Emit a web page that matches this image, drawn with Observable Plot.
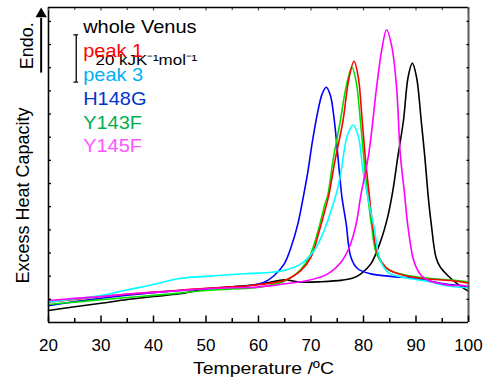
<!DOCTYPE html>
<html><head><meta charset="utf-8">
<script src="https://cdn.jsdelivr.net/npm/d3@7"></script>
<script src="https://cdn.jsdelivr.net/npm/@observablehq/plot@0.6"></script>
<style>
html,body{margin:0;padding:0;background:#fff;}
#chart svg{display:block;}
</style>
</head><body><div id="chart"></div>
<script>
// ---- data ----
const seriesNames = ["whole Venus", "peak 1", "peak 3", "H148G", "Y143F", "Y145F"];
const lineColors  = ["#000000", "#ff0000", "#00ffff", "#0000ff", "#00e000", "#ff00ff"];
const labelColors = ["#000000", "#ff0000", "#00b0f0", "#0033cc", "#00b050", "#ff55ff"];
const drawOrder   = ["whole Venus", "H148G", "Y143F", "peak 1", "peak 3", "Y145F"];

const wholeVenusT = [20, 25, 30, 35, 40, 45, 50, 55, 60, 62, 65, 68, 72, 76, 78, 79.5, 81.4, 83.3, 84.6, 85.6, 86.5, 87.6, 88.5, 89.3, 90.1, 91.0, 91.7, 92.4, 92.9, 93.8, 94.6, 95.4, 96.7, 98, 100];
const wholeVenusV = [5.2, 6.8, 8.3, 9.9, 11.2, 12.4, 14.5, 15.4, 16.5, 17.3, 18.4, 17.4, 17.6, 18.3, 19.2, 21, 25.3, 35.4, 45.5, 57, 71, 87, 106, 112, 106, 87, 71, 52.7, 42.6, 28.2, 24, 21.8, 18.9, 16.5, 13.5];

const peak1T = [20, 25, 30, 35, 40, 45, 50, 55, 58.5, 62, 64.9, 68.1, 70, 71.6, 72.9, 73.4, 74.5, 76.1, 77.2, 78.2, 79.0, 79.75, 80.4, 81.1, 81.7, 82.7, 84.6, 87.8, 91.6, 96.7, 100];
const peak1V = [8.8, 10.0, 11.2, 12.2, 13.1, 13.9, 14.8, 15.4, 16, 16.9, 18.1, 22.5, 28.2, 39.7, 50.5, 55, 69, 87.2, 105, 112.8, 106, 87.2, 70, 55, 42.6, 29.6, 23.2, 20.3, 18.9, 18.1, 17];

const peak3T = [20, 25, 30, 35, 40, 45, 50, 55, 58.5, 62, 64.9, 68.1, 70.6, 72.5, 74.2, 75.1, 75.75, 76.9, 78.0, 79.0, 79.9, 80.5, 81.1, 82.1, 83.0, 84.6, 87.8, 92.9, 95.4, 100];
const peak3V = [8.8, 10.2, 11.6, 14.1, 16.4, 19.0, 19.9, 20.7, 21.2, 21.6, 22.5, 25.3, 31.1, 39.7, 51, 58, 65.6, 80.5, 85.3, 80.5, 65.6, 58, 51, 40, 28.2, 21.8, 19.4, 17.5, 16, 15];

const h148gT = [20, 25, 30, 35, 40, 45, 50, 55, 58.5, 61.1, 63, 64.9, 66.2, 67.5, 68.6, 69.4, 70.2, 71.2, 72.1, 72.9, 73.7, 74.4, 74.9, 75.4, 75.9, 76.7, 77.6, 78.9, 81.4, 85.2, 90.3, 95.4, 100];
const h148gV = [7.3, 9.0, 10.5, 11.8, 12.9, 13.8, 14.6, 15.3, 16, 17.4, 20.3, 25.3, 32.5, 42.6, 55, 65, 77.2, 90, 98.5, 101.6, 98, 88, 77.2, 65, 54, 42.6, 28.2, 23.2, 21, 19.9, 18.9, 16.7, 15.5];

const y143fT = [20, 25, 30, 35, 40, 45, 50, 55, 58.5, 62, 64.9, 68, 69.8, 71.4, 72.7, 73.2, 74.2, 75.6, 76.8, 77.8, 78.6, 79.4, 80.1, 80.8, 81.5, 82.5, 84.5, 87.8, 91.6, 96.7, 100];
const y143fV = [7.8, 8.8, 9.8, 10.8, 11.7, 12.7, 13.8, 14.5, 14.8, 16, 17.8, 22.8, 28.8, 40, 51.5, 55, 70, 87.2, 103, 110.2, 104, 87.2, 70, 55, 42.6, 29.6, 23.2, 20.6, 19.3, 18.3, 17.5];

const y145fT = [20, 25, 30, 35, 40, 45, 50, 55, 58.5, 62, 65, 69.4, 73.2, 75.7, 77.3, 78.6, 79.5, 81.0, 82.5, 83.5, 84.4, 85.4, 86.3, 87.0, 87.8, 88.4, 89.4, 90.2, 91, 92.5, 94.8, 96.7, 99, 100];
const y145fV = [9.5, 10.4, 11.2, 12.3, 13.0, 13.8, 14.6, 15.0, 15.1, 15.8, 16.7, 18.1, 21, 26, 32.5, 42.6, 55, 72.8, 101.6, 118, 126.4, 119, 101.6, 72.8, 56, 42.6, 28.2, 23, 20.3, 18, 16.7, 16, 16, 15.5];

const seriesT = {"whole Venus": wholeVenusT, "peak 1": peak1T, "peak 3": peak3T, "H148G": h148gT, "Y143F": y143fT, "Y145F": y145fT};
const seriesV = {"whole Venus": wholeVenusV, "peak 1": peak1V, "peak 3": peak3V, "H148G": h148gV, "Y143F": y143fV, "Y145F": y145fV};

const xDomain = [20, 100];
const yDomain = [0, 136];
const xMajorTicks = [20, 30, 40, 50, 60, 70, 80, 90, 100];
const xMinorTicks = [25, 35, 45, 55, 65, 75, 85, 95];
const yTicks = [10, 20, 30, 40, 50, 60, 70, 80, 90, 100, 110, 120, 130];

// legend & annotations (data units)
const legendX = 26.6;
const legendTopV = 124.9;
const legendStepV = 10.3;
const scaleBar = {x: 25.28, v0: 103.8, v1: 124.2, label: "20 kJK\u207B\u00B9mol\u207B\u00B9", labelX: 28.95, labelV: 111.3};
const endoArrow = {x: 18.6, v0: 107.9, v1: 131.5, head: 133.2};
const endoText = {x: 17.0, v: 119.5, text: "Endo."};
const yTitle = {x: 16.3, v: 54.8, text: "Excess Heat Capacity"};
const xTitle = "Temperature /\u00BAC";

// ---- build rows ----
const rows = drawOrder.flatMap(name => seriesT[name].map((t, i) => ({series: name, T: t, V: seriesV[name][i]})));
const legendRows = seriesNames.map((name, i) => ({name, color: labelColors[i], v: legendTopV - i * legendStepV}));

const font = "Liberation Sans, Arial, Helvetica, sans-serif";

const chart = Plot.plot({
  width: 489,
  height: 385,
  marginLeft: 48,
  marginRight: 21,
  marginTop: 7,
  marginBottom: 63,
  style: {fontFamily: font, fontSize: "17px", background: "#fff", color: "#000", overflow: "visible"},
  x: {domain: xDomain, axis: null},
  y: {domain: yDomain, axis: null},
  color: {domain: seriesNames, range: lineColors},
  marks: [
    // curves
    Plot.line(rows, {x: "T", y: "V", z: "series", stroke: "series", strokeWidth: 1.6, curve: "catmull-rom"}),
    // frame
    Plot.ruleY([yDomain[0]], {stroke: "#000", strokeWidth: 1.6}),
    Plot.ruleX([xDomain[0]], {stroke: "#000", strokeWidth: 1.6}),
    Plot.ruleY([yDomain[1]], {stroke: "#000", strokeWidth: 1.3}),
    Plot.ruleX([xDomain[1]], {stroke: "#5c5c5c", strokeWidth: 2}),
    // inward ticks
    Plot.axisX(xMajorTicks, {anchor: "bottom", tickSize: 6.5, dy: -6.5, tickFormat: () => "", label: null, strokeWidth: 1.5}),
    Plot.axisX(xMinorTicks, {anchor: "bottom", tickSize: 4, dy: -4, tickFormat: () => "", label: null, strokeWidth: 1.5}),
    Plot.axisX(xMajorTicks, {anchor: "top", tickSize: 2.5, dy: 2.5, tickFormat: () => "", label: null, strokeWidth: 1.2, stroke: "#444"}),
    Plot.axisX(xMinorTicks, {anchor: "top", tickSize: 2, dy: 2, tickFormat: () => "", label: null, strokeWidth: 1.2, stroke: "#444"}),
    Plot.axisY(yTicks, {anchor: "left", tickSize: 3, dx: 3, tickFormat: () => "", label: null, strokeWidth: 1.3}),
    Plot.axisY(yTicks, {anchor: "right", tickSize: 2.5, dx: -2.5, tickFormat: () => "", label: null, strokeWidth: 1.3}),
    // x tick labels
    Plot.axisX(xMajorTicks, {anchor: "bottom", tickSize: 0, tickPadding: 16, label: null, fontSize: 17, tickFormat: d => String(d)}),
    // x title
    Plot.text([xTitle], {frameAnchor: "bottom", text: d => d, lineAnchor: "bottom", dy: 51, dx: 5, fontSize: 17.2, className: "stretch"}),
    // y title & Endo
    Plot.text([yTitle], {x: "x", y: "v", text: "text", rotate: -90, lineAnchor: "bottom", fontSize: 18}),
    Plot.text([endoText], {x: "x", y: "v", text: "text", rotate: -90, lineAnchor: "bottom", fontSize: 18}),
    // Endo arrow
    Plot.link([endoArrow], {x1: "x", x2: "x", y1: "v0", y2: "v1", stroke: "#000", strokeWidth: 2}),
    Plot.dot([endoArrow], {x: "x", y: "head", symbol: "triangle", r: 4.2, fill: "#000", stroke: null}),
    // scale bar
    Plot.link([scaleBar], {x1: "x", x2: "x", y1: "v0", y2: "v1", stroke: "#000", strokeWidth: 1.3}),
    Plot.ruleY([scaleBar.v0, scaleBar.v1], {y: d => d, x1: scaleBar.x - 0.45, x2: scaleBar.x + 0.45, stroke: "#000", strokeWidth: 1.2}),
    Plot.text([scaleBar], {x: "labelX", y: "labelV", text: "label", textAnchor: "start", lineAnchor: "bottom", fontSize: 15, className: "stretch"}),
    // legend
    Plot.text(legendRows, {x: () => legendX, y: "v", text: "name", fill: "color", textAnchor: "start", lineAnchor: "bottom", fontSize: 17.7, className: "stretch"})
  ]
});

document.getElementById("chart").appendChild(chart);

// horizontal stretch of some labels to match the reference proportions
chart.querySelectorAll(".stretch text").forEach(t => {
  const len = t.getComputedTextLength();
  t.setAttribute("textLength", (len * 1.13).toFixed(2));
  t.setAttribute("lengthAdjust", "spacingAndGlyphs");
});
</script>
</body></html>
